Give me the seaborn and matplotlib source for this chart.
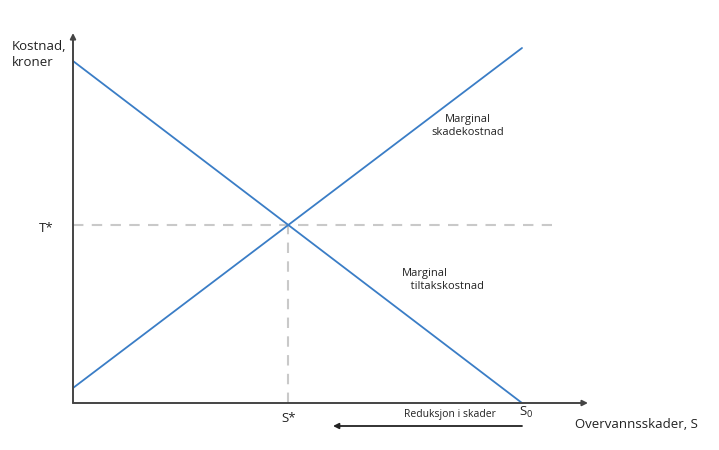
import matplotlib
matplotlib.use("Agg")
import matplotlib.pyplot as plt
import seaborn as sns
import pandas as pd

sns.set_theme(style="white")
plt.rcParams['font.family'] = ['Open Sans', 'DejaVu Sans']

# Data (abstract units)
s_values = [0, 100]
marginal_skadekostnad = [15, 355]
marginal_tiltakskostnad = [342, 0]
s_star = 47.9
t_star = 178
s0 = 100
x_max = 114.7
y_max = 370
dash_end = 106.7

BLUE = "#3a7dc6"
GREY = "#c9c9c9"
AX = "#444444"

fig = plt.figure(figsize=(7.19, 4.5), dpi=100)
W, H = 719, 450
ax = fig.add_axes([73 / W, (H - 403) / H, (588 - 73) / W, (403 - 33) / H])
ax.set_xlim(0, x_max)
ax.set_ylim(0, y_max)
for sp in ax.spines.values():
    sp.set_visible(False)
ax.set_xticks([])
ax.set_yticks([])
ax.patch.set_alpha(0)

df = pd.DataFrame({"S": s_values * 2,
                   "kost": marginal_skadekostnad + marginal_tiltakskostnad,
                   "kurve": ["skade"] * 2 + ["tiltak"] * 2})
sns.lineplot(data=df, x="S", y="kost", hue="kurve", palette=[BLUE, BLUE],
             legend=False, ax=ax, linewidth=1.3)
ax.set_xlabel("")
ax.set_ylabel("")

# dashed guides
ax.plot([0, dash_end], [t_star, t_star], color=GREY, lw=1.5, ls=(0, (5, 4)), zorder=1)
ax.plot([s_star, s_star], [0, t_star], color=GREY, lw=1.5, ls=(0, (5, 4)), zorder=1)

# axes with arrows
ax.annotate("", xy=(x_max, 0), xytext=(0, 0),
            arrowprops=dict(arrowstyle="-|>", color=AX, lw=1.4, mutation_scale=8,
                            shrinkA=0, shrinkB=0), annotation_clip=False)
ax.annotate("", xy=(0, y_max), xytext=(0, 0),
            arrowprops=dict(arrowstyle="-|>", color=AX, lw=1.4, mutation_scale=8,
                            shrinkA=0, shrinkB=0), annotation_clip=False)

fs = 9.5
fig.text(12 / W, 1 - 40 / H, "Kostnad,\nkroner", ha="left", va="top", fontsize=fs,
         color="#222222", linespacing=1.25)
fig.text(53 / W, 1 - 229 / H, "T*", ha="right", va="center", fontsize=fs, color="#222222")
fig.text(289 / W, 1 - 419 / H, "S*", ha="center", va="center", fontsize=fs, color="#222222")
fig.text(519 / W, 1 - 412 / H, "S$_\\mathregular{0}$", ha="left", va="center", fontsize=fs,
         color="#222222")
fig.text(575 / W, 1 - 424 / H, "Overvannsskader, S", ha="left", va="center", fontsize=fs,
         color="#222222")
fig.text(450 / W, 1 - 414 / H, "Reduksjon i skader", ha="center", va="center", fontsize=7.5,
         color="#222222")
ax.annotate("", xy=(333 / W, 1 - 426 / H), xytext=(522 / W, 1 - 426 / H),
            xycoords="figure fraction", textcoords="figure fraction",
            arrowprops=dict(arrowstyle="-|>", color="#222222", lw=1.3, mutation_scale=8,
                            shrinkA=0, shrinkB=0), annotation_clip=False)
fig.text(468 / W, 1 - 126 / H, "Marginal\nskadekostnad", ha="center", va="center",
         fontsize=8, color="#222222", linespacing=1.3)
fig.text(402 / W, 1 - 280 / H, "Marginal\n   tiltakskostnad", ha="left", va="center",
         fontsize=8, color="#222222", linespacing=1.3)

fig.savefig("out.png", dpi=100)
